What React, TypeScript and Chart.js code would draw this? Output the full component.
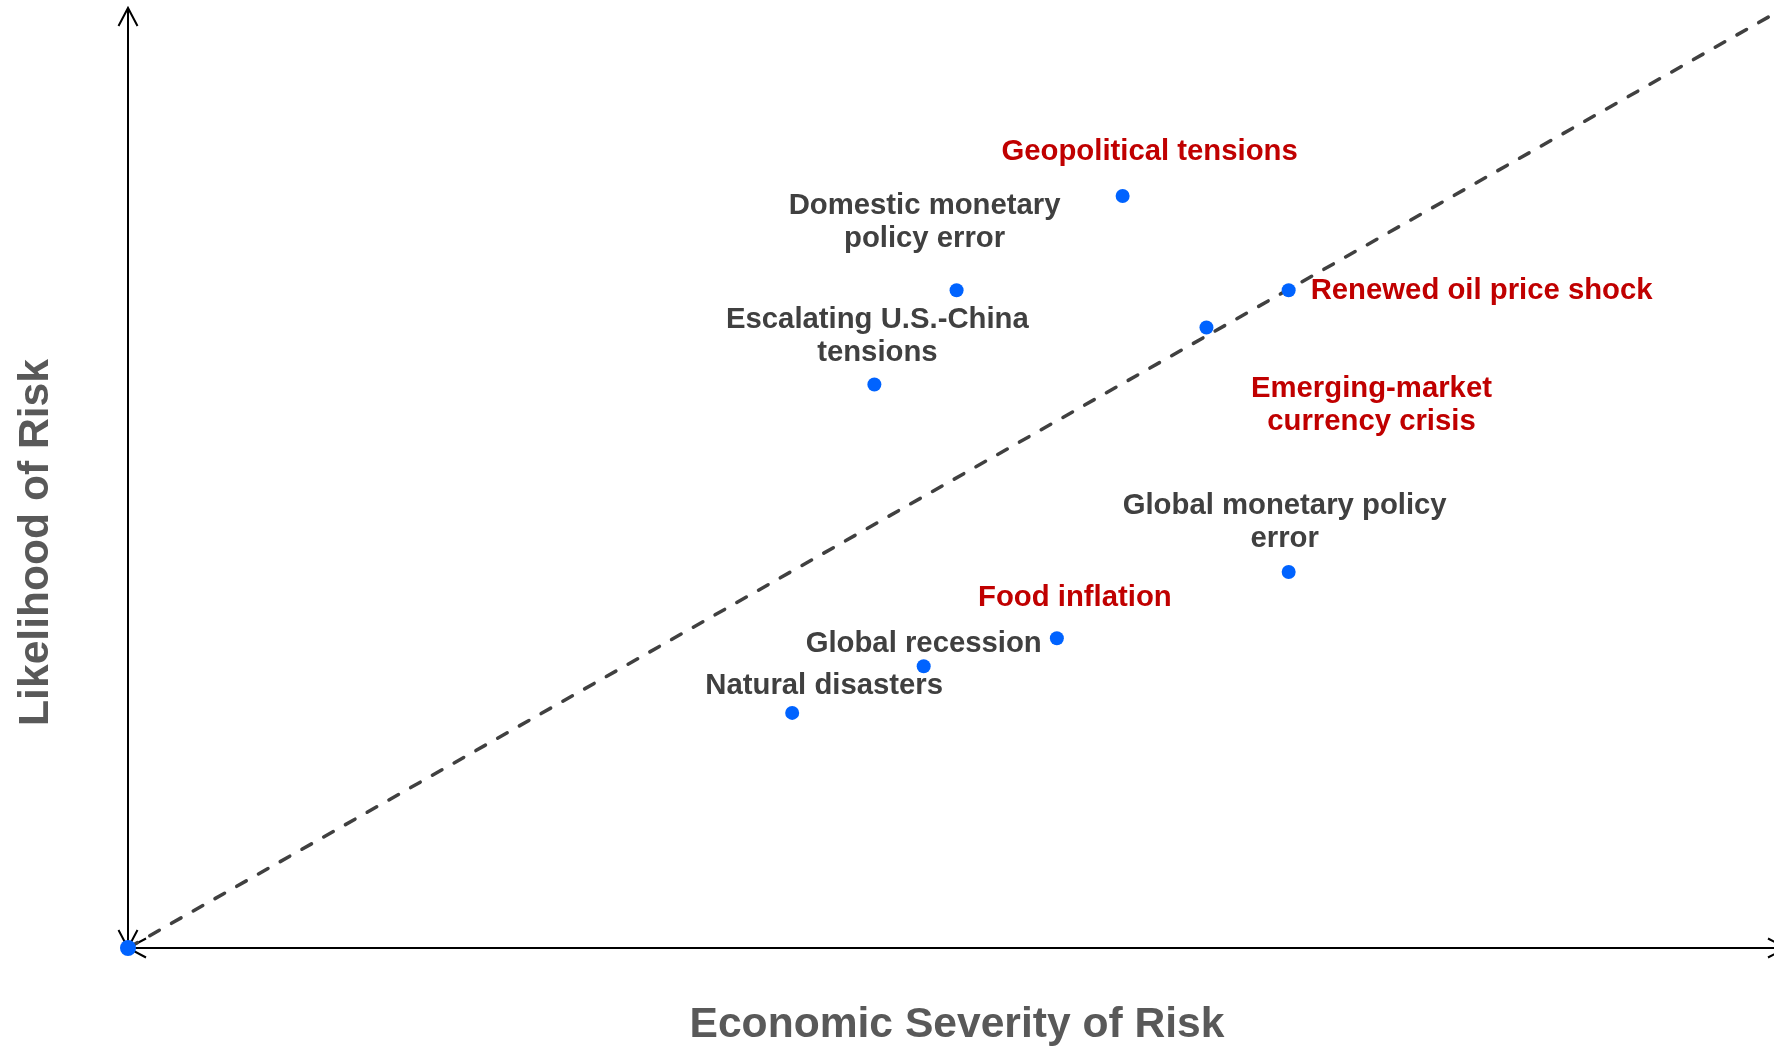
import React, { useEffect, useRef } from "react";
import { Chart, registerables } from "chart.js";

Chart.register(...registerables);

// ---- data ----
const riskNames = [
  "Geopolitical tensions",
  "Domestic monetary policy error",
  "Renewed oil price shock",
  "Emerging-market currency crisis",
  "Escalating U.S.-China tensions",
  "Global monetary policy error",
  "Food inflation",
  "Global recession",
  "Natural disasters",
];
const severity = [6.05, 5.04, 7.06, 6.56, 4.54, 7.06, 5.65, 4.84, 4.04];
const likelihood = [8.06, 7.05, 7.05, 6.65, 6.04, 4.03, 3.32, 3.02, 2.52];
const labelLines = [
  ["Geopolitical tensions"],
  ["Domestic monetary", "policy error"],
  ["Renewed oil price shock"],
  ["Emerging-market", "currency crisis"],
  ["Escalating U.S.-China", "tensions"],
  ["Global monetary policy", "error"],
  ["Food inflation"],
  ["Global recession"],
  ["Natural disasters"],
];
const highlighted = [true, false, true, true, false, false, true, false, false];
const diagonalX = [0, 10];
const diagonalY = [0, 10];
const xTitle = "Economic Severity of Risk";
const yTitle = "Likelihood of Risk";

// ---- label placement (style, px offsets from point) ----
const labelPlacement = [
  { align: "center", dx: 27, dy: -36 },
  { align: "center", dx: -32, dy: -76 },
  { align: "left", dx: 22, dy: 9 },
  { align: "center", dx: 165, dy: 69 },
  { align: "center", dx: 3, dy: -56 },
  { align: "center", dx: -4, dy: -58 },
  { align: "center", dx: 18, dy: -32 },
  { align: "center", dx: 0, dy: -14 },
  { align: "center", dx: 32, dy: -19 },
];

const RED = "#C00000";
const GRAY = "#404040";
const TITLE = "#595959";
const BLUE = "#0063FF";
const FONT = "'Liberation Sans', Arial, sans-serif";

const decorPlugin = {
  id: "decor",
  beforeDatasetsDraw(chart: any) {
    const { ctx, chartArea } = chart;
    const { left, right, top, bottom } = chartArea;
    ctx.save();
    ctx.strokeStyle = "#000";
    ctx.lineWidth = 2;
    ctx.lineCap = "butt";
    const ah = 18,
      aw = 9.5;
    const yTop = top - 7;
    const xRight = right + 14;
    ctx.beginPath();
    ctx.moveTo(left, bottom);
    ctx.lineTo(left, yTop);
    ctx.moveTo(left, bottom);
    ctx.lineTo(xRight, bottom);
    ctx.stroke();
    ctx.beginPath();
    ctx.moveTo(left - aw, yTop + ah);
    ctx.lineTo(left, yTop);
    ctx.lineTo(left + aw, yTop + ah);
    ctx.moveTo(left - aw, bottom - ah);
    ctx.lineTo(left, bottom);
    ctx.lineTo(left + aw, bottom - ah);
    ctx.moveTo(left + ah, bottom - aw);
    ctx.lineTo(left, bottom);
    ctx.lineTo(left + ah, bottom + aw);
    ctx.moveTo(xRight - ah, bottom - aw);
    ctx.lineTo(xRight, bottom);
    ctx.lineTo(xRight - ah, bottom + aw);
    ctx.stroke();

    // axis titles
    ctx.fillStyle = TITLE;
    ctx.font = `bold 42.6px ${FONT}`;
    ctx.textAlign = "center";
    ctx.textBaseline = "alphabetic";
    ctx.fillText(xTitle, (left + right) / 2 + 7, bottom + 89);
    ctx.save();
    ctx.translate(48, (top + bottom) / 2 + 61);
    ctx.rotate(-Math.PI / 2);
    ctx.fillText(yTitle, 0, 0);
    ctx.restore();
    ctx.restore();
  },
  afterDatasetsDraw(chart: any) {
    const { ctx } = chart;
    const meta = chart.getDatasetMeta(1);
    ctx.save();
    ctx.font = `bold 29.3px ${FONT}`;
    ctx.textBaseline = "alphabetic";
    meta.data.forEach((pt: any, i: number) => {
      const p = labelPlacement[i];
      ctx.fillStyle = highlighted[i] ? RED : GRAY;
      ctx.textAlign = p.align;
      labelLines[i].forEach((line, j) => {
        ctx.fillText(line, pt.x + p.dx, pt.y + p.dy + j * 33);
      });
    });
    ctx.restore();
  },
};

export default function App() {
  const ref = useRef<HTMLCanvasElement | null>(null);
  useEffect(() => {
    if (!ref.current) return;
    const chart = new Chart(ref.current, {
      type: "scatter",
      data: {
        datasets: [
          {
            type: "line",
            label: "Diagonal",
            data: diagonalX.map((x, i) => ({ x, y: diagonalY[i] })),
            borderColor: "#404040",
            borderWidth: 3.5,
            borderDash: [11, 14],
            borderCapStyle: "round",
            pointRadius: [8, 0],
            pointHoverRadius: [8, 0],
            pointBackgroundColor: BLUE,
            pointBorderWidth: 0,
            clip: false,
            order: 1,
          } as any,
          {
            label: "Risks",
            data: severity.map((x, i) => ({ x, y: likelihood[i] })),
            pointRadius: 7,
            pointHoverRadius: 7,
            pointBackgroundColor: BLUE,
            pointBorderWidth: 0,
            clip: false,
            order: 0,
          } as any,
        ],
      },
      options: {
        animation: false,
        responsive: false,
        devicePixelRatio: 1,
        layout: { autoPadding: false, padding: { left: 128, top: 15, right: 2, bottom: 98 } },
        plugins: {
          legend: { display: false },
          tooltip: { enabled: false },
        },
        scales: {
          x: { type: "linear", min: 0, max: 10, display: false },
          y: { type: "linear", min: 0, max: 10, display: false },
        },
      },
      plugins: [decorPlugin],
    });
    return () => chart.destroy();
  }, []);
  return (
    <canvas
      ref={ref}
      width={1774}
      height={1046}
      style={{ position: "fixed", left: 0, top: 0, width: 1774, height: 1046, display: "block", background: "#fff" }}
    />
  );
}
